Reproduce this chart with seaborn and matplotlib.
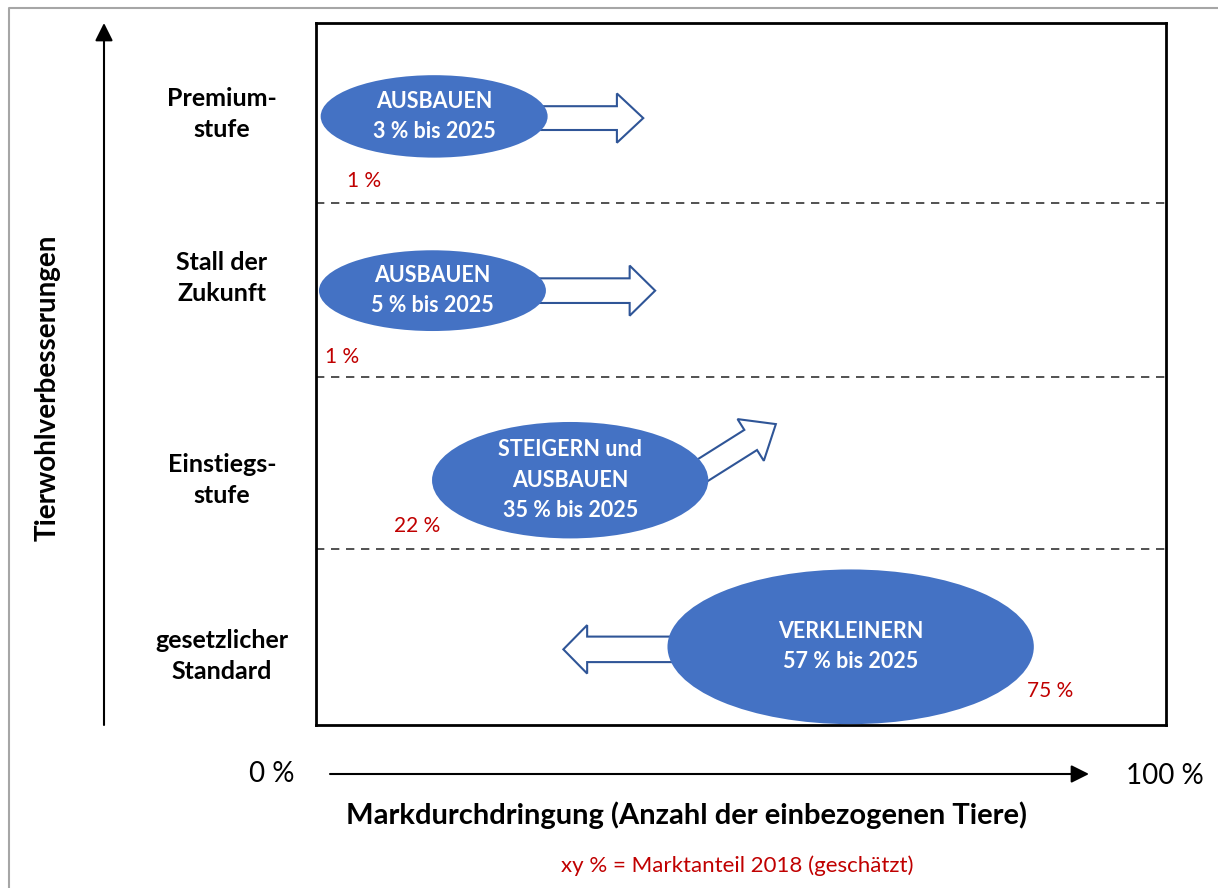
import matplotlib
matplotlib.use("Agg")
import matplotlib.pyplot as plt
from matplotlib.patches import Ellipse, FancyArrow
from matplotlib.lines import Line2D
import seaborn as sns

# Daten
stufen = ["Premium-\nstufe", "Stall der\nZukunft", "Einstiegs-\nstufe", "gesetzlicher\nStandard"]
anteil_2018 = [1, 1, 22, 75]
ziel_2025 = [3, 5, 35, 57]
strategie = ["AUSBAUEN", "AUSBAUEN", "STEIGERN und\nAUSBAUEN", "VERKLEINERN"]

# Layout (Achsenkoordinaten: x 0..100, y 0..82.6, gleiche Skala)
ell_x = [13.9, 13.7, 29.9, 62.9]
ell_y = [71.6, 51.1, 28.8, 9.2]
ell_w = [26.7, 26.7, 32.5, 43.1]
ell_h = [9.7, 9.5, 13.7, 18.2]
pfeil = [  # x, y, dx, dy, shaft, head, head_len
    (25.2, 71.4, 13.3, 0.0, 2.8, 5.8, 3.1),
    (25.2, 51.1, 14.7, 0.0, 2.9, 5.9, 3.0),
    (44.1, 29.1, 10.0, 6.3, 2.8, 5.8, 3.5),
    (44.0, 8.9, -14.9, 0.0, 3.0, 5.7, 2.8),
]
lab_x = [5.7, 3.1, 11.9, 86.4]
lab_y = [64.0, 43.3, 23.4, 4.0]
grenzen = [20.7, 40.9, 61.4]
stufe_py = [114, 278, 480, 656]

sns.set_theme(style="white")
plt.rcParams['font.family'] = ['Lato', 'DejaVu Sans']
plt.rcParams['text.color'] = 'black'

blau = '#4472C4'
rand = '#2F5597'
rot = '#C00000'

fig = plt.figure(figsize=(12.18, 8.88), dpi=100)
W, H = 1218, 888


def fx(p):
    return p / W


def fy(p):
    return 1 - p / H


ax = fig.add_axes([316 / W, (H - 725) / H, 850 / W, 702 / H])
ymax = 702 / 8.5
ax.set_xlim(0, 100)
ax.set_ylim(0, ymax)
ax.set_xticks([])
ax.set_yticks([])
for s in ax.spines.values():
    s.set_color('black')
    s.set_linewidth(2)

for g in grenzen:
    ax.axhline(g, color='#333333', lw=1.2, ls=(0, (5, 4)))

for i in range(4):
    x, y, dx, dy, w, hw, hl = pfeil[i]
    ax.add_patch(FancyArrow(x, y, dx, dy, width=w, head_width=hw, head_length=hl,
                            length_includes_head=True, facecolor='white',
                            edgecolor=rand, lw=1.5, zorder=2))
    ax.add_patch(Ellipse((ell_x[i], ell_y[i]), ell_w[i], ell_h[i], facecolor=blau,
                         edgecolor='none', zorder=3, clip_on=False))
    ax.text(ell_x[i], ell_y[i], f"{strategie[i]}\n{ziel_2025[i]} % bis 2025",
            ha='center', va='center', color='white', fontsize=15.5,
            fontweight='bold', linespacing=1.55, zorder=4)
    ax.text(lab_x[i], lab_y[i], f"{anteil_2018[i]} %", ha='center', va='center',
            color=rot, fontsize=15, zorder=4)
    fig.text(fx(222), fy(stufe_py[i]), stufen[i], ha='center', va='center',
             fontsize=18, fontweight='bold', linespacing=1.4)

# Rahmen und Achsenpfeile
fig.add_artist(Line2D([fx(9), fx(9), 1], [0, fy(8), fy(8)], color='#A6A6A6', lw=1.5))
ax.annotate('', xy=(104, H - 23), xytext=(104, H - 725), xycoords='figure pixels',
            textcoords='figure pixels',
            arrowprops=dict(arrowstyle='-|>,head_length=0.9,head_width=0.45',
                            color='black', lw=1.5, shrinkA=0, shrinkB=0),
            annotation_clip=False)
ax.annotate('', xy=(1089, H - 774), xytext=(330, H - 774), xycoords='figure pixels',
            textcoords='figure pixels',
            arrowprops=dict(arrowstyle='-|>,head_length=0.9,head_width=0.45',
                            color='black', lw=1.5, shrinkA=0, shrinkB=0),
            annotation_clip=False)

fig.text(fx(48), fy(388), "Tierwohlverbesserungen", rotation=90, ha='center',
         va='center', fontsize=20, fontweight='bold')
fig.text(fx(272), fy(774), "0 %", ha='center', va='center', fontsize=20)
fig.text(fx(1165), fy(776), "100 %", ha='center', va='center', fontsize=20)
fig.text(fx(687), fy(815), "Markdurchdringung (Anzahl der einbezogenen Tiere)",
         ha='center', va='center', fontsize=21, fontweight='bold')
fig.text(fx(737), fy(866), "xy % = Marktanteil 2018 (geschätzt)", ha='center',
         va='center', fontsize=16, color=rot)

fig.savefig('out.png', dpi=100)
